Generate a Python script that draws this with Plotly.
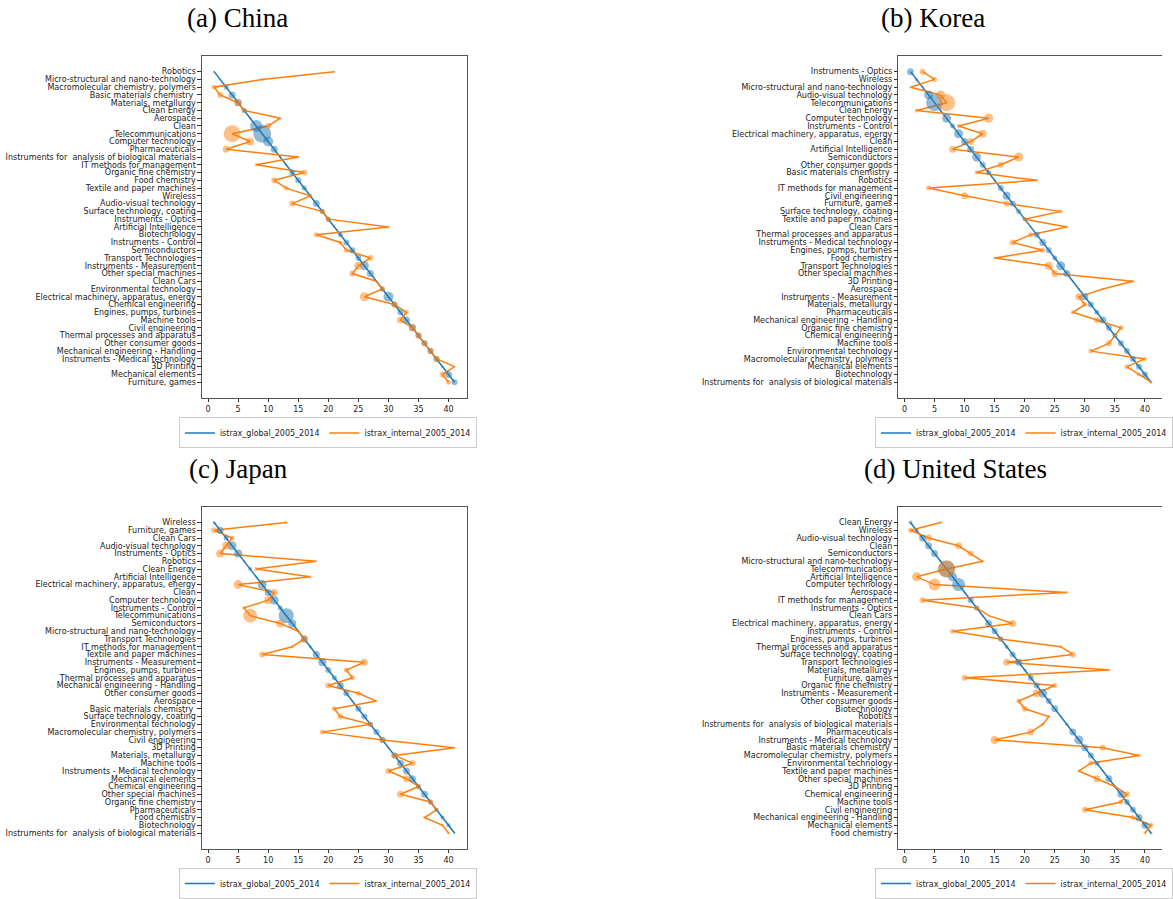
import plotly.graph_objects as go

# ---------------- DATA ----------------
GLOBAL_RANK = [1, 2, 3, 4, 5, 6, 7, 8, 9, 10, 11, 12, 13, 14, 15, 16, 17, 18, 19, 20,
               21, 22, 23, 24, 25, 26, 27, 28, 29, 30, 31, 32, 33, 34, 35, 36, 37, 38, 39, 40, 41]
X_TICKS = [0, 5, 10, 15, 20, 25, 30, 35, 40]

china_fields = [
    "Robotics", "Micro-structural and nano-technology", "Macromolecular chemistry, polymers",
    "Basic materials chemistry ", "Materials, metallurgy", "Clean Energy", "Aerospace", "Clean",
    "Telecommunications", "Computer technology", "Pharmaceuticals",
    "Instruments for  analysis of biological materials", "IT methods for management",
    "Organic fine chemistry", "Food chemistry", "Textile and paper machines", "Wireless",
    "Audio-visual technology", "Surface technology, coating", "Instruments - Optics",
    "Artificial Intelligence", "Biotechnology", "Instruments - Control", "Semiconductors",
    "Transport Technologies", "Instruments - Measurement", "Other special machines", "Clean Cars",
    "Environmental technology", "Electrical machinery, apparatus, energy", "Chemical engineering",
    "Engines, pumps, turbines", "Machine tools", "Civil engineering",
    "Thermal processes and apparatus", "Other consumer goods", "Mechanical engineering - Handling",
    "Instruments - Medical technology", "3D Printing", "Mechanical elements", "Furniture, games"]
china_internal = [21, 9, 1, 2, 5, 6, 12, 10, 4, 7, 3, 15, 8, 16, 11, 13, 17, 14, 19, 20, 30,
                  18, 22, 23, 27, 25, 24, 28, 29, 26, 31, 33, 32, 34, 35, 36, 37, 38, 41, 39, 40]
china_global_w = [2, 2, 5, 7, 7, 5, 2, 12, 18, 10, 7, 2, 2, 6, 6, 5, 3, 7, 5, 5, 2,
                  5, 6, 6, 6, 9, 7, 2, 5, 10, 6, 6, 7, 7, 6, 6, 6, 6, 2, 7, 6]
china_internal_w = [2, 3, 5, 6, 7, 5, 3, 6, 17, 8, 7, 3, 3, 6, 6, 5, 4, 6, 5, 5, 3,
                    5, 4, 5, 6, 8, 6, 2, 5, 9, 6, 5, 7, 7, 6, 6, 6, 6, 2, 6, 5]

korea_fields = [
    "Instruments - Optics", "Wireless", "Micro-structural and nano-technology",
    "Audio-visual technology", "Telecommunications", "Clean Energy", "Computer technology",
    "Instruments - Control", "Electrical machinery, apparatus, energy", "Clean",
    "Artificial Intelligence", "Semiconductors", "Other consumer goods",
    "Basic materials chemistry ", "Robotics", "IT methods for management", "Civil engineering",
    "Furniture, games", "Surface technology, coating", "Textile and paper machines", "Clean Cars",
    "Thermal processes and apparatus", "Instruments - Medical technology",
    "Engines, pumps, turbines", "Food chemistry", "Transport Technologies",
    "Other special machines", "3D Printing", "Aerospace", "Instruments - Measurement",
    "Materials, metallurgy", "Pharmaceuticals", "Mechanical engineering - Handling",
    "Organic fine chemistry", "Chemical engineering", "Machine tools", "Environmental technology",
    "Macromolecular chemistry, polymers", "Mechanical elements", "Biotechnology",
    "Instruments for  analysis of biological materials"]
korea_internal = [3, 5, 1, 6, 7, 2, 14, 9, 13, 11, 8, 19, 16, 12, 22, 4, 10, 17, 26, 20, 27,
                  21, 18, 23, 15, 24, 25, 38, 33, 29, 30, 28, 32, 36, 35, 34, 31, 40, 37, 39, 41]
korea_global_w = [7, 3, 2, 9, 17, 2, 9, 5, 9, 7, 7, 9, 6, 5, 2, 6, 8, 6, 5, 4, 2,
                  6, 7, 6, 5, 9, 7, 2, 2, 7, 6, 5, 7, 6, 5, 6, 6, 6, 6, 6, 2]
korea_internal_w = [6, 5, 2, 9, 17, 4, 9, 4, 8, 7, 7, 9, 6, 4, 3, 5, 7, 6, 4, 4, 3,
                    5, 6, 5, 3, 8, 7, 3, 2, 7, 5, 4, 6, 5, 3, 6, 5, 4, 5, 4, 3]

japan_fields = [
    "Wireless", "Furniture, games", "Clean Cars", "Audio-visual technology",
    "Instruments - Optics", "Robotics", "Clean Energy", "Artificial Intelligence",
    "Electrical machinery, apparatus, energy", "Clean", "Computer technology",
    "Instruments - Control", "Telecommunications", "Semiconductors",
    "Micro-structural and nano-technology", "Transport Technologies",
    "IT methods for management", "Textile and paper machines", "Instruments - Measurement",
    "Engines, pumps, turbines", "Thermal processes and apparatus",
    "Mechanical engineering - Handling", "Other consumer goods", "Aerospace",
    "Basic materials chemistry ", "Surface technology, coating", "Environmental technology",
    "Macromolecular chemistry, polymers", "Civil engineering", "3D Printing",
    "Materials, metallurgy", "Machine tools", "Instruments - Medical technology",
    "Mechanical elements", "Chemical engineering", "Other special machines",
    "Organic fine chemistry", "Pharmaceuticals", "Food chemistry", "Biotechnology",
    "Instruments for  analysis of biological materials"]
japan_internal = [13, 1, 4, 3, 2, 18, 8, 17, 5, 11, 10, 6, 7, 12, 15, 16, 14, 9, 26, 23, 24,
                  20, 25, 28, 21, 22, 27, 19, 29, 41, 31, 34, 30, 33, 35, 32, 37, 38, 36, 39, 40]
japan_global_w = [3, 7, 5, 9, 8, 2, 4, 2, 9, 7, 9, 5, 15, 8, 2, 7, 3, 7, 8, 6, 5,
                  7, 6, 2, 6, 6, 5, 6, 6, 2, 6, 7, 7, 7, 5, 7, 5, 4, 4, 4, 2]
japan_internal_w = [3, 6, 5, 8, 8, 2, 4, 3, 9, 7, 8, 4, 14, 8, 2, 7, 3, 6, 7, 5, 5,
                    6, 5, 2, 5, 6, 5, 5, 6, 2, 6, 6, 6, 7, 5, 7, 5, 4, 3, 3, 3]

us_fields = [
    "Clean Energy", "Wireless", "Audio-visual technology", "Clean", "Semiconductors",
    "Micro-structural and nano-technology", "Telecommunications", "Artificial Intelligence",
    "Computer technology", "Aerospace", "IT methods for management", "Instruments - Optics",
    "Clean Cars", "Electrical machinery, apparatus, energy", "Instruments - Control",
    "Engines, pumps, turbines", "Thermal processes and apparatus", "Surface technology, coating",
    "Transport Technologies", "Materials, metallurgy", "Furniture, games",
    "Organic fine chemistry", "Instruments - Measurement", "Other consumer goods",
    "Biotechnology", "Robotics", "Instruments for  analysis of biological materials",
    "Pharmaceuticals", "Instruments - Medical technology", "Basic materials chemistry ",
    "Macromolecular chemistry, polymers", "Environmental technology",
    "Textile and paper machines", "Other special machines", "3D Printing",
    "Chemical engineering", "Machine tools", "Civil engineering",
    "Mechanical engineering - Handling", "Mechanical elements", "Food chemistry"]
us_internal = [6, 1, 4, 9, 11, 13, 7, 2, 5, 27, 3, 12, 14, 18, 8, 16, 26, 28, 17, 34, 10,
               25, 22, 19, 20, 24, 23, 21, 15, 33, 39, 31, 29, 32, 35, 37, 36, 30, 38, 41, 40]
us_global_w = [4, 4, 7, 7, 7, 2, 17, 9, 13, 2, 6, 5, 2, 7, 6, 5, 4, 6, 7, 3, 6,
               6, 9, 6, 7, 2, 3, 7, 9, 7, 6, 5, 2, 7, 2, 7, 6, 6, 7, 7, 3]
us_internal_w = [3, 5, 7, 7, 6, 3, 17, 9, 12, 3, 6, 5, 2, 7, 5, 5, 3, 6, 7, 3, 6,
                 5, 8, 5, 6, 3, 3, 7, 8, 6, 4, 5, 3, 7, 2, 6, 5, 6, 5, 5, 3]

TITLES = ["(a) China", "(b) Korea", "(c) Japan", "(d) United States"]
SERIES_NAMES = ["istrax_global_2005_2014", "istrax_internal_2005_2014"]

# ---------------- FIGURE ----------------
W, H = 1173, 899
BLUE, ORANGE = "#1f77b4", "#ff7f0e"
PX_PER_UNIT = 267 / 44.0

panels = [
    dict(fields=china_fields, internal=china_internal, gw=china_global_w, iw=china_internal_w,
         left=204, top=57, bottom=404),
    dict(fields=korea_fields, internal=korea_internal, gw=korea_global_w, iw=korea_internal_w,
         left=907, top=57, bottom=404),
    dict(fields=japan_fields, internal=japan_internal, gw=japan_global_w, iw=japan_internal_w,
         left=204, top=515, bottom=862),
    dict(fields=us_fields, internal=us_internal, gw=us_global_w, iw=us_internal_w,
         left=907, top=515, bottom=862),
]
title_pos = [(240, 18), (942, 18), (241, 476), (965, 476)]
legend_pos = [(331, 424), (1034, 424), (331, 882), (1034, 882)]

fig = go.Figure()
layout = dict(width=W, height=H, margin=dict(l=0, r=0, t=0, b=0),
              plot_bgcolor="white", paper_bgcolor="white", annotations=[])

for k, p in enumerate(panels):
    sfx = "" if k == 0 else str(k + 1)
    xa, ya = "x" + sfx, "y" + sfx
    leg = "legend" + sfx
    idx = list(range(len(p["fields"])))
    n = len(idx)

    fig.add_trace(go.Scatter(x=GLOBAL_RANK, y=idx, mode="lines", name=SERIES_NAMES[0],
                             line=dict(color=BLUE, width=1.5), xaxis=xa, yaxis=ya,
                             legend=leg, showlegend=True))
    fig.add_trace(go.Scatter(x=p["internal"], y=idx, mode="lines", name=SERIES_NAMES[1],
                             line=dict(color=ORANGE, width=1.5), xaxis=xa, yaxis=ya,
                             legend=leg, showlegend=True))
    fig.add_trace(go.Scatter(x=GLOBAL_RANK, y=idx, mode="markers", showlegend=False,
                             marker=dict(color=BLUE, size=p["gw"], opacity=0.5,
                                         line=dict(width=0)),
                             xaxis=xa, yaxis=ya, hoverinfo="skip"))
    fig.add_trace(go.Scatter(x=p["internal"], y=idx, mode="markers", showlegend=False,
                             marker=dict(color=ORANGE, size=p["iw"], opacity=0.5,
                                         line=dict(width=0)),
                             xaxis=xa, yaxis=ya, hoverinfo="skip"))

    right_px = min(p["left"] + 267, W)
    x_max = -1 + (right_px - p["left"]) / PX_PER_UNIT
    full_box = right_px - p["left"] >= 266.9 and p["left"] + 267 <= W
    layout["xaxis" + sfx] = dict(
        domain=[p["left"] / W, right_px / W], range=[-1, x_max], anchor=ya,
        tickvals=X_TICKS, ticks="outside", ticklen=3.5, tickwidth=1, tickcolor="#333",
        showline=True, linecolor="#555", linewidth=1.3, mirror=True,
        showgrid=False, zeroline=False,
        tickfont=dict(family="DejaVu Sans", size=8, color="#222"))
    layout["yaxis" + sfx] = dict(
        domain=[1 - p["bottom"] / H, 1 - p["top"] / H], range=[n + 1, -2], anchor=xa,
        tickvals=idx, ticktext=p["fields"], ticks="outside", ticklen=3.5, tickwidth=1,
        tickcolor="#333", showline=True, linecolor="#555", linewidth=1.3,
        mirror=True if full_box else False,
        showgrid=False, zeroline=False,
        tickfont=dict(family="DejaVu Sans", size=8, color="#222"))
    lx, ly = legend_pos[k]
    layout[leg] = dict(orientation="h", x=lx / W, y=1 - ly / H, xanchor="center",
                       yanchor="top", bgcolor="white", bordercolor="#cccccc", borderwidth=1,
                       font=dict(family="DejaVu Sans", size=8, color="#222"),
                       itemwidth=30, tracegroupgap=0)
    tx, ty = title_pos[k]
    layout["annotations"].append(dict(
        text=TITLES[k], x=tx / W, y=1 - ty / H, xref="paper", yref="paper",
        xanchor="center", yanchor="middle", showarrow=False,
        font=dict(family="Liberation Serif", size=27, color="black")))

fig.update_layout(**layout)
fig.write_html("out.html")
